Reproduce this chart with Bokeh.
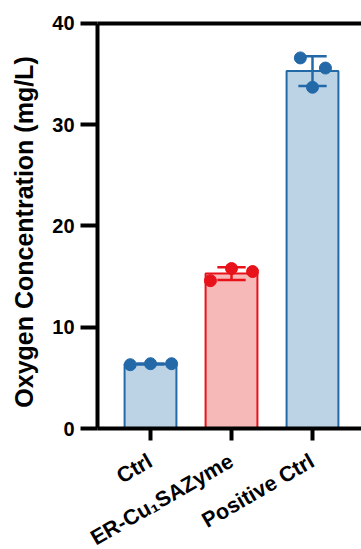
import math
import numpy as np
from bokeh.plotting import figure
from bokeh.models import ColumnDataSource, FixedTicker, Range1d, Label
from bokeh.embed import file_html
from bokeh.resources import INLINE

# ---- data ----
categories = ["Ctrl", "ER-Cu\u2081SAZyme", "Positive Ctrl"]
ctrl_vals = [6.3, 6.4, 6.4]
er_vals = [14.6, 15.8, 15.5]
pos_vals = [36.6, 33.7, 35.6]
point_offsets = [[-0.25, 0.0, 0.26], [-0.26, 0.0, 0.26], [-0.15, 0.0, 0.16]]
edge_colors = ["#2369a8", "#e8121a", "#2369a8"]
fill_colors = ["#bcd3e6", "#f7b8b8", "#bcd3e6"]
y_ticks = [0, 10, 20, 30, 40]
y_title = "Oxygen Concentration (mg/L)"

groups = [ctrl_vals, er_vals, pos_vals]
xs = list(range(len(categories)))
means = [float(np.mean(g)) for g in groups]
sds = [float(np.std(g, ddof=1)) for g in groups]

FONT = "Liberation Sans"
X_LEFT, X_AXIS, X_RIGHT = -1.852, -0.654, 2.605
Y_BOTTOM, Y_TOP = -11.95, 42.27

# frame covers the whole page; both axes sit at fixed data locations
p = figure(width=361, height=549, output_backend="svg", toolbar_location=None,
           x_range=Range1d(X_LEFT, X_RIGHT), y_range=Range1d(Y_BOTTOM, Y_TOP),
           min_border_left=0, min_border_right=0, min_border_top=0,
           min_border_bottom=0)
p.outline_line_color = None
p.grid.visible = False
p.background_fill_color = "white"

bar_src = ColumnDataSource(dict(x=xs, top=means, fill=fill_colors, line=edge_colors))
p.vbar(x="x", top="top", width=0.64, bottom=0, source=bar_src,
       fill_color="fill", line_color="line", line_width=2)

# error bars (mean +/- SD)
ex, y0, y1, cx0, cx1, cy, ecol = [], [], [], [], [], [], []
for i, (m, s) in enumerate(zip(means, sds)):
    ex.append(i); y0.append(m - s); y1.append(m + s); ecol.append(edge_colors[i])
    for yy in (m - s, m + s):
        cx0.append(i - 0.175); cx1.append(i + 0.175); cy.append(yy)
cap_col = [c for c in edge_colors for _ in range(2)]
p.segment(x0=ex, y0=y0, x1=ex, y1=y1, line_color=ecol, line_width=2.5)
p.segment(x0=cx0, y0=cy, x1=cx1, y1=cy, line_color=cap_col, line_width=2.5)

# individual points
px, py, pc = [], [], []
for i, g in enumerate(groups):
    for off, v in zip(point_offsets[i], g):
        px.append(i + off); py.append(v); pc.append(edge_colors[i])
p.scatter(px, py, size=12, fill_color=pc, line_color=pc)

# top frame line at the last y tick
p.segment(x0=[X_AXIS], y0=[y_ticks[-1]], x1=[X_RIGHT], y1=[y_ticks[-1]],
          line_color="black", line_width=4)

# x axis
p.xaxis.fixed_location = 0
p.xaxis.bounds = (X_AXIS, X_RIGHT)
p.xaxis.ticker = FixedTicker(ticks=xs)
p.xaxis.major_label_overrides = {i: c for i, c in enumerate(categories)}
p.xaxis.major_label_orientation = math.radians(30)
p.xaxis.major_label_text_font_size = "21.5px"
p.xaxis.major_label_standoff = 19
p.xaxis.major_tick_out = 12
p.xaxis.major_tick_in = 0
p.xaxis.minor_tick_line_color = None

# y axis
p.yaxis.fixed_location = X_AXIS
p.yaxis.bounds = (y_ticks[0], y_ticks[-1])
p.yaxis.ticker = FixedTicker(ticks=y_ticks)
p.yaxis.major_tick_out = 17
p.yaxis.major_tick_in = 0
p.yaxis.minor_tick_line_color = None
p.yaxis.major_label_standoff = 6
p.yaxis.major_label_text_font_size = "20px"

for ax in (p.xaxis[0], p.yaxis[0]):
    ax.axis_line_width = 4
    ax.axis_line_color = "black"
    ax.major_tick_line_width = 4
    ax.major_tick_line_color = "black"
    ax.major_label_text_font = FONT
    ax.major_label_text_font_style = "bold"
    ax.major_label_text_color = "black"

# y axis title
p.add_layout(Label(x=X_AXIS, y=(y_ticks[0] + y_ticks[-1]) / 2, text=y_title,
                   x_offset=-74, y_offset=-6, angle=math.pi / 2,
                   text_align="center", text_baseline="middle",
                   text_font=FONT, text_font_style="bold",
                   text_font_size="25px", text_color="black"))

open("out.html", "w").write(file_html(p, INLINE))
